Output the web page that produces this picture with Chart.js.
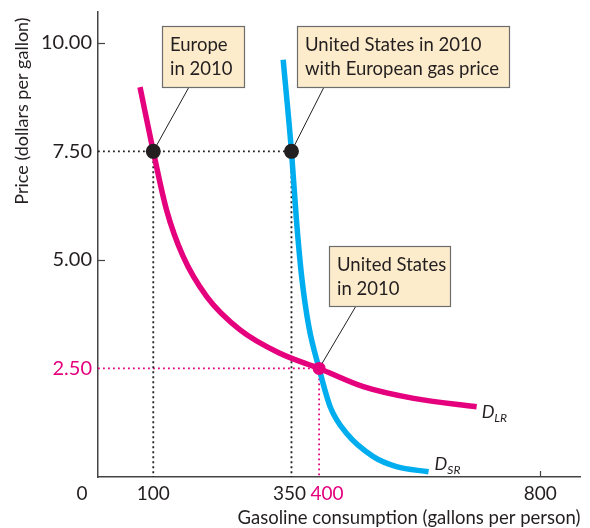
<!DOCTYPE html>
<html>
<head>
<meta charset="utf-8">
<script src="https://cdn.jsdelivr.net/npm/chart.js@4/dist/chart.umd.min.js"></script>
<style>
  html, body { margin: 0; background: #fff; }
  #wrap { width: 590px; height: 528px; }
</style>
</head>
<body>
<div id="wrap"><canvas id="gasChart"></canvas></div>
<script>
// ticks
const priceTicks = [2.5, 5, 7.5, 10];
const quantityTicks = [0, 100, 350, 400, 800];

// long-run demand
const longRunQty = [76, 100, 124, 154, 197, 257, 329, 400, 480, 571, 685];
const longRunPrice = [8.98, 7.5, 6.15, 5.08, 4.15, 3.39, 2.85, 2.5, 2.08, 1.81, 1.62];

// short-run demand
const shortRunQty = [335, 350, 359, 368.5, 381.5, 400, 420, 450, 498, 540, 598];
const shortRunPrice = [9.61, 7.5, 5.92, 4.61, 3.46, 2.5, 1.62, 1.0, 0.47, 0.24, 0.12];

// marked points
const pointQty = [100, 350, 400];
const pointPrice = [7.5, 7.5, 2.5];
const pointNames = [
  ['Europe', 'in 2010'],
  ['United States in 2010', 'with European gas price'],
  ['United States', 'in 2010']
];

const MAGENTA = '#e5007e';
const CYAN = '#00aeef';
const INK = '#231f20';
const FONT = 'Lato, "Open Sans", sans-serif';

const toXY = (xs, ys) => xs.map((x, i) => ({ x, y: ys[i] }));

// callout boxes: left, top, width, height, where the leader leaves the box
const boxes = [
  { x: 162, y: 26, w: 82, h: 61, ax: 189 },
  { x: 297, y: 26, w: 212, h: 61, ax: 324 },
  { x: 329, y: 246, w: 121, h: 60, ax: 356 }
];

const overlay = {
  id: 'overlay',
  beforeDatasetsDraw(chart) {
    const { ctx, scales: { x, y } } = chart;
    ctx.save();
    ctx.strokeStyle = INK;
    ctx.lineWidth = 1;
    pointQty.forEach((q, i) => {
      const b = boxes[i];
      ctx.beginPath();
      ctx.moveTo(b.ax, b.y + b.h);
      ctx.lineTo(x.getPixelForValue(q), y.getPixelForValue(pointPrice[i]));
      ctx.stroke();
    });
    ctx.restore();
  },
  afterDraw(chart) {
    const { ctx, chartArea: area, scales: { x, y } } = chart;
    ctx.save();
    // inward tick marks
    ctx.strokeStyle = '#444';
    ctx.lineWidth = 1.2;
    [5, 10].forEach(v => {
      const py = Math.round(y.getPixelForValue(v)) + 0.5;
      ctx.beginPath();
      ctx.moveTo(area.left, py);
      ctx.lineTo(area.left + 7, py);
      ctx.stroke();
    });
    const p800 = Math.round(x.getPixelForValue(800)) + 0.5;
    ctx.beginPath();
    ctx.moveTo(p800, area.bottom);
    ctx.lineTo(p800, area.bottom - 6);
    ctx.stroke();

    // x tick labels
    ctx.font = '19px ' + FONT;
    ctx.textAlign = 'center';
    ctx.textBaseline = 'middle';
    const shift = { 0: -16, 350: -2, 400: 8 };
    quantityTicks.forEach(v => {
      ctx.fillStyle = v === 400 ? MAGENTA : INK;
      ctx.fillText(String(v), x.getPixelForValue(v) + (shift[v] || 0), 494);
    });

    // axis titles
    ctx.fillStyle = INK;
    ctx.font = '18.5px ' + FONT;
    ctx.fillText('Gasoline consumption (gallons per person)', 409, 518);
    ctx.save();
    ctx.translate(22, 111);
    ctx.rotate(-Math.PI / 2);
    ctx.font = '18px ' + FONT;
    ctx.fillText('Price (dollars per gallon)', 0, 0);
    ctx.restore();

    // callout boxes
    boxes.forEach((b, i) => {
      ctx.fillStyle = '#fdeccb';
      ctx.fillRect(b.x, b.y, b.w, b.h);
      ctx.strokeStyle = '#6d6d6d';
      ctx.lineWidth = 1.2;
      ctx.strokeRect(b.x + 0.5, b.y + 0.5, b.w, b.h);
      ctx.fillStyle = INK;
      ctx.font = '18.5px ' + FONT;
      ctx.textAlign = 'left';
      ctx.textBaseline = 'alphabetic';
      pointNames[i].forEach((line, j) => {
        ctx.fillText(line, b.x + 8, b.y + 25 + j * 24);
      });
    });

    // curve labels
    const curveLabel = (main, sub, px, py) => {
      ctx.font = 'italic 18px ' + FONT;
      ctx.fillStyle = INK;
      ctx.textAlign = 'left';
      ctx.fillText(main, px, py);
      const w = ctx.measureText(main).width;
      ctx.font = 'italic 12px ' + FONT;
      ctx.fillText(sub, px + w, py + 4);
    };
    const lastLR = longRunQty.length - 1;
    const lastSR = shortRunQty.length - 1;
    curveLabel('D', 'LR', x.getPixelForValue(longRunQty[lastLR]) + 5, y.getPixelForValue(longRunPrice[lastLR]) + 11);
    curveLabel('D', 'SR', x.getPixelForValue(shortRunQty[lastSR]) + 6, y.getPixelForValue(shortRunPrice[lastSR]) - 2);
    ctx.restore();
  }
};

const dotted = (data, color) => ({
  type: 'line',
  data,
  borderColor: color,
  borderWidth: 1.8,
  borderDash: [1.8, 3.2],
  pointRadius: 0,
  fill: false,
  order: 3
});

new Chart(document.getElementById('gasChart'), {
  type: 'line',
  data: {
    datasets: [
      {
        type: 'scatter',
        data: toXY(pointQty, pointPrice),
        pointRadius: [7.5, 7.5, 6.5],
        pointBackgroundColor: [INK, INK, MAGENTA],
        pointBorderWidth: 0,
        order: 0
      },
      {
        data: toXY(longRunQty, longRunPrice),
        borderColor: MAGENTA,
        borderWidth: 5.5,
        cubicInterpolationMode: 'monotone',
        pointRadius: 0,
        borderCapStyle: 'butt',
        order: 1
      },
      {
        data: toXY(shortRunQty, shortRunPrice),
        borderColor: CYAN,
        borderWidth: 5.5,
        cubicInterpolationMode: 'monotone',
        pointRadius: 0,
        borderCapStyle: 'butt',
        order: 2
      },
      dotted([{ x: 0, y: pointPrice[0] }, { x: pointQty[1], y: pointPrice[1] }], INK),
      dotted([{ x: pointQty[0], y: pointPrice[0] }, { x: pointQty[0], y: 0 }], INK),
      dotted([{ x: pointQty[1], y: pointPrice[1] }, { x: pointQty[1], y: 0 }], INK),
      dotted([{ x: 0, y: pointPrice[2] }, { x: pointQty[2], y: pointPrice[2] }], MAGENTA),
      dotted([{ x: pointQty[2], y: pointPrice[2] }, { x: pointQty[2], y: 0 }], MAGENTA)
    ]
  },
  options: {
    responsive: true,
    maintainAspectRatio: false,
    animation: false,
    layout: { padding: { top: 12, right: 10, left: 0, bottom: 0 } },
    scales: {
      x: {
        type: 'linear',
        min: 0,
        max: 872,
        afterFit(scale) {
          scale.height = 51;
          scale.paddingLeft = 0;
          scale.paddingRight = 0;
        },
        grid: { display: false, drawTicks: false },
        border: { color: '#444', width: 1.5 },
        ticks: { display: false }
      },
      y: {
        min: 0,
        max: 10.71,
        afterFit(scale) {
          scale.width = 98;
          scale.paddingTop = 0;
          scale.paddingBottom = 0;
        },
        afterBuildTicks(scale) { scale.ticks = priceTicks.map(value => ({ value })); },
        grid: { display: false, drawTicks: false },
        border: { color: '#444', width: 1.5 },
        ticks: {
          padding: 6,
          font: { family: FONT, size: 20 },
          color: ctx => (ctx.tick && ctx.tick.value === 2.5 ? MAGENTA : INK),
          callback: v => v.toFixed(2)
        }
      }
    },
    plugins: { legend: { display: false }, tooltip: { enabled: false } }
  },
  plugins: [overlay]
});
</script>
</body>
</html>
